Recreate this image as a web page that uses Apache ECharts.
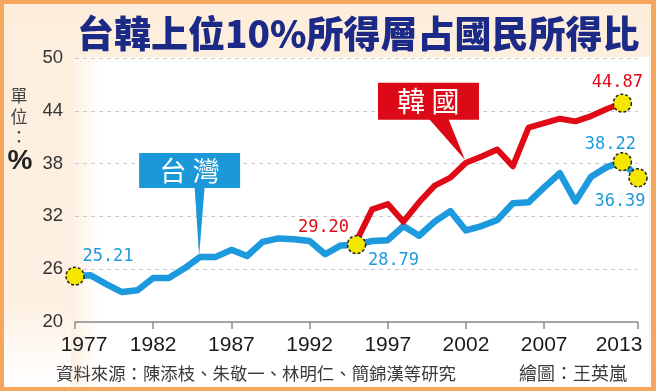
<!DOCTYPE html>
<html><head><meta charset="utf-8">
<script src="https://cdn.jsdelivr.net/npm/echarts@6/dist/echarts.min.js"></script>
<style>html,body{margin:0;padding:0;background:#f6a75e}#c{width:656px;height:391px}</style>
</head><body><div id="c"></div>
<script>
const years = ['1977','1978','1979','1980','1981','1982','1983','1984','1985','1986','1987','1988','1989','1990','1991','1992','1993','1994','1995','1996','1997','1998','1999','2000','2001','2002','2003','2004','2005','2006','2007','2008','2009','2010','2011','2012','2013'];
const taiwan = [25.21,25.3,24.3,23.4,23.6,25.0,25.0,26.1,27.4,27.4,28.2,27.5,29.1,29.5,29.4,29.2,27.7,28.7,28.79,29.2,29.3,30.9,29.8,31.4,32.6,30.4,30.9,31.6,33.5,33.6,35.3,36.9,33.7,36.5,37.6,38.22,36.39];
const korea = [null,null,null,null,null,null,null,null,null,null,null,null,null,null,null,null,null,null,29.20,32.8,33.4,31.4,33.6,35.5,36.4,38.1,38.8,39.6,37.7,42.1,42.6,43.1,42.8,43.4,44.2,44.87,null];
const yTicks = [20,26,32,38,44,50];
const xTickYears = ['1977','1982','1987','1992','1997','2002','2007','2013'];
const titleText = '台韓上位10%所得層占國民所得比';
const unitChars = ['單','位','：'];
const unitSymbol = '%';
const seriesNames = ['台灣','韓國'];
const calloutTexts = ['台 灣','韓 國'];
const sourceText = '資料來源：陳添枝、朱敬一、林明仁、簡錦漢等研究';
const creditText = '繪圖：王英嵐';

const BLUE = '#1d9ade', RED = '#e00a16', BLUE_BOX = '#1b98d8', RED_BOX = '#dc0a16';
const numFont = '"DejaVu Sans Mono", monospace';
const cjk = '"Noto Sans CJK TC", sans-serif';
const latin = '"Liberation Sans", Arial, sans-serif';

const chart = echarts.init(document.getElementById('c'), null, {renderer: 'canvas'});

function mp(seriesArr, idx, offset, color, showSymbol) {
  return {
    coord: [years[idx], seriesArr[idx]],
    value: seriesArr[idx],
    symbolSize: showSymbol ? 18 : 0,
    label: {show: true, position: 'inside', offset: offset, color: color, fontSize: 17, fontFamily: numFont,
      formatter: p => Number(p.value).toFixed(2)}
  };
}
const yi = y => years.indexOf(y);
const markStyle = {color: '#f5e600', borderColor: '#222', borderWidth: 1.5, borderType: [3, 2]};

const option = {
  animation: false,
  backgroundColor: '#f6a75e',
  title: {
    text: titleText, left: 72, top: 9,
    textStyle: {fontSize: 37, fontWeight: 900, color: '#1b2a86', fontFamily: cjk, lineHeight: 40}
  },
  grid: {left: 75, right: 18, top: 58, bottom: 69, containLabel: false, outerBoundsMode: 'none'},
  xAxis: {
    type: 'category', data: years, boundaryGap: false,
    axisLine: {show: true, lineStyle: {color: '#8c8c8c', width: 1.5}},
    axisTick: {show: true, interval: (i) => xTickYears.indexOf(years[i]) >= 0, length: 7, inside: false, lineStyle: {color: '#8c8c8c', width: 1.5}},
    axisLabel: {
      interval: (i) => xTickYears.indexOf(years[i]) >= 0,
      margin: 13, color: '#1a1a1a', fontSize: 21, fontFamily: latin,
      formatter: v => v === xTickYears[0] ? '{a|' + v + '}' : (v === xTickYears[xTickYears.length - 1] ? '{b|' + v + '}' : v),
      rich: {
        a: {padding: [0, 0, 0, 18], fontSize: 21, color: '#1a1a1a', fontFamily: latin},
        b: {padding: [0, 38, 0, 0], fontSize: 21, color: '#1a1a1a', fontFamily: latin}
      }
    },
    splitLine: {show: false}
  },
  yAxis: {
    type: 'value', min: yTicks[0], max: yTicks[yTicks.length - 1], interval: yTicks[1] - yTicks[0],
    axisLine: {show: false}, axisTick: {show: false},
    axisLabel: {margin: 12, color: '#333', fontSize: 18.5, fontFamily: latin},
    splitLine: {show: true, lineStyle: {color: '#c9c9c9', type: [4, 4], width: 1}}
  },
  series: [
    {
      name: seriesNames[0], type: 'line', data: taiwan, showSymbol: false, symbol: 'none', z: 3,
      lineStyle: {color: BLUE, width: 6.5, cap: 'round', join: 'round'},
      markPoint: {
        symbol: 'circle', itemStyle: markStyle, z: 10,
        data: [
          mp(taiwan, yi('1977'), [33, -20], BLUE, true),
          mp(taiwan, yi('1995'), [37, 16], BLUE, true),
          mp(taiwan, yi('2012'), [-12, -17], BLUE, true),
          mp(taiwan, yi('2013'), [-18, 24], BLUE, true)
        ]
      }
    },
    {
      name: seriesNames[1], type: 'line', data: korea, showSymbol: false, symbol: 'none', z: 4,
      lineStyle: {color: RED, width: 6, cap: 'round', join: 'round'},
      markPoint: {
        symbol: 'circle', itemStyle: markStyle, z: 10,
        data: [
          mp(korea, yi('1995'), [-33, -13], RED, false),
          mp(korea, yi('2012'), [-5, -21], RED, true)
        ]
      }
    }
  ],
  graphic: [
    {type: 'rect', z: -20, silent: true, shape: {x: 4, y: 4, width: 647, height: 383},
      style: {fill: new echarts.graphic.LinearGradient(0, 0, 0, 1, [
        {offset: 0, color: '#fdeedc'}, {offset: 0.8, color: '#fdf1e4'}, {offset: 0.9, color: '#fff9f4'}, {offset: 1, color: '#ffffff'}])}},
    {type: 'rect', z: -19, silent: true, shape: {x: 71, y: 57, width: 578, height: 330},
      style: {fill: new echarts.graphic.LinearGradient(0, 0, 1, 0, [
        {offset: 0, color: '#fdf0e2'}, {offset: 0.05, color: '#ffffff'}, {offset: 1, color: '#ffffff'}])}},
    {type: 'text', z: 5, style: {text: unitChars[0], x: 19, y: 96, textAlign: 'center', textVerticalAlign: 'middle', fontSize: 17, fill: '#444', fontFamily: cjk}},
    {type: 'text', z: 5, style: {text: unitChars[1], x: 19, y: 117, textAlign: 'center', textVerticalAlign: 'middle', fontSize: 17, fill: '#444', fontFamily: cjk}},
    {type: 'text', z: 5, style: {text: unitChars[2], x: 19, y: 137, textAlign: 'center', textVerticalAlign: 'middle', fontSize: 17, fill: '#444', fontFamily: cjk}},
    {type: 'text', z: 5, style: {text: unitSymbol, x: 20, y: 161, textAlign: 'center', textVerticalAlign: 'middle', fontSize: 28, fontWeight: 'bold', fill: '#222', fontFamily: latin}},
    {type: 'text', z: 5, style: {text: sourceText, x: 56, y: 373, textAlign: 'left', textVerticalAlign: 'middle', fontSize: 17.4, fill: '#3a3a3a', fontFamily: cjk}},
    {type: 'text', z: 5, style: {text: creditText, x: 519, y: 373, textAlign: 'left', textVerticalAlign: 'middle', fontSize: 18, fill: '#3a3a3a', fontFamily: cjk}}
  ]
};
chart.setOption(option);

// Callouts anchored on data points via the chart's own scales
const t1 = chart.convertToPixel({seriesIndex: 0}, [yi('1985'), taiwan[yi('1985')]]);
const t2 = chart.convertToPixel({seriesIndex: 1}, [yi('2002'), korea[yi('2002')]]);
const g = option.graphic.slice();
g.push(
  {type: 'polygon', z: 20, shape: {points: [[t1[0] - 5.5, t1[1] - 70], [t1[0] + 4.5, t1[1] - 70], [t1[0] - 1, t1[1] - 1]]}, style: {fill: BLUE_BOX}},
  {type: 'rect', z: 20, shape: {x: t1[0] - 61, y: t1[1] - 104, width: 101, height: 35}, style: {fill: BLUE_BOX}},
  {type: 'text', z: 21, style: {text: calloutTexts[0], x: t1[0] - 10.5, y: t1[1] - 86, textAlign: 'center', textVerticalAlign: 'middle', fontSize: 27, fill: '#fff', fontFamily: cjk}},
  {type: 'polygon', z: 20, shape: {points: [[t2[0] - 38, t2[1] - 45], [t2[0] - 18, t2[1] - 45], [t2[0] - 1, t2[1] - 3]]}, style: {fill: RED_BOX}},
  {type: 'rect', z: 20, shape: {x: t2[0] - 88, y: t2[1] - 80, width: 101, height: 37}, style: {fill: RED_BOX}},
  {type: 'text', z: 21, style: {text: calloutTexts[1], x: t2[0] - 37.5, y: t2[1] - 61, textAlign: 'center', textVerticalAlign: 'middle', fontSize: 28, fill: '#fff', fontFamily: cjk}}
);
chart.setOption({graphic: g}, {replaceMerge: ['graphic']});
</script>
</body></html>
